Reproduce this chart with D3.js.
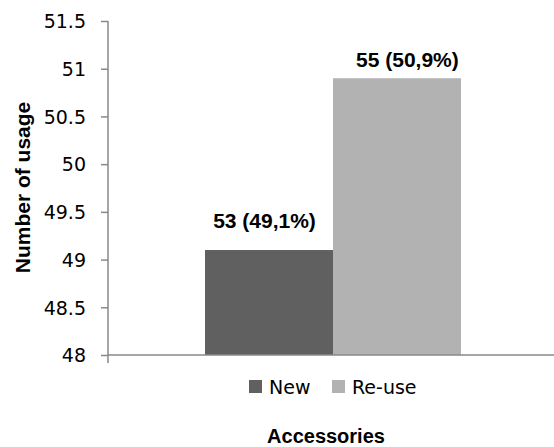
<!DOCTYPE html>
<html>
<head>
<meta charset="utf-8">
<script src="https://cdn.jsdelivr.net/npm/d3@7"></script>
<style>
  html, body { margin: 0; padding: 0; background: #fff; }
  svg { display: block; }
</style>
</head>
<body>
<svg id="chart" width="554" height="447"></svg>
<script>
// ---- data ----
const categories = ["New", "Re-use"];
const values = [49.1, 50.9];
const counts = [53, 55];
const percents = ["49,1%", "50,9%"];
const yTicks = [48, 48.5, 49, 49.5, 50, 50.5, 51, 51.5];
const group = ["Accessories"];
const colors = ["#606060", "#b2b2b2"];

// ---- layout ----
const W = 554, H = 447;
const mLeft = 108, mRight = 558, mTop = 21, mBottom = 355;
const labelOffsets = [[-4.5, -22.5], [10.4, -10.8]];
const regFont = "'DejaVu Sans', sans-serif";
const boldFont = "'Liberation Sans', Arial, sans-serif";
const axisColor = "#898989";

const svg = d3.select("#chart");

const y = d3.scaleLinear().domain([48, 51.5]).range([mBottom, mTop]);
const x0 = d3.scaleBand().domain(group).range([mLeft, mRight]).paddingInner(0).paddingOuter(0.379);
const x1 = d3.scaleBand().domain(categories).range([0, x0.bandwidth()]).padding(0);

// bars
const g = svg.append("g").attr("transform", `translate(${x0(group[0])},0)`);
g.selectAll("rect").data(categories).join("rect")
  .attr("x", d => x1(d))
  .attr("y", (d, i) => y(values[i]))
  .attr("width", x1.bandwidth())
  .attr("height", (d, i) => y(48) - y(values[i]))
  .attr("fill", (d, i) => colors[i]);

// value labels
g.selectAll("text.lbl").data(categories).join("text")
  .attr("class", "lbl")
  .attr("x", (d, i) => x1(d) + x1.bandwidth() / 2 + labelOffsets[i][0])
  .attr("y", (d, i) => y(values[i]) + labelOffsets[i][1])
  .attr("text-anchor", "middle")
  .attr("font-family", boldFont)
  .attr("font-weight", "bold")
  .attr("font-size", 21)
  .attr("fill", "#000")
  .text((d, i) => `${counts[i]} (${percents[i]})`);

// y axis
const yAxis = d3.axisLeft(y).tickValues(yTicks).tickSize(7).tickPadding(15)
  .tickFormat(d => String(d));
const ya = svg.append("g").attr("transform", `translate(${mLeft},0)`).call(yAxis);
ya.select(".domain").remove();
ya.selectAll(".tick line").attr("stroke", axisColor).attr("stroke-width", 1.5);
ya.selectAll(".tick text")
  .attr("font-family", regFont).attr("font-size", 19).attr("fill", "#000")
  .attr("dy", "0.36em");
svg.append("line").attr("x1", mLeft).attr("x2", mLeft).attr("y1", y(51.5)).attr("y2", mBottom + 8)
  .attr("stroke", axisColor).attr("stroke-width", 1.5);
// x axis line
svg.append("line").attr("x1", mLeft).attr("x2", W).attr("y1", mBottom).attr("y2", mBottom)
  .attr("stroke", axisColor).attr("stroke-width", 1.5);

// y title
svg.append("text")
  .attr("transform", `translate(29.5,${(103 + 272) / 2}) rotate(-90)`)
  .attr("text-anchor", "middle")
  .attr("font-family", boldFont).attr("font-weight", "bold").attr("font-size", 21)
  .text("Number of usage");

// x title
svg.append("text")
  .attr("x", 326).attr("y", 443)
  .attr("text-anchor", "middle")
  .attr("font-family", boldFont).attr("font-weight", "bold").attr("font-size", 20)
  .text(group[0]);

// legend
const legX = [249, 332];
const leg = svg.append("g");
categories.forEach((c, i) => {
  leg.append("rect").attr("x", legX[i]).attr("y", 380).attr("width", 13).attr("height", 13)
    .attr("fill", colors[i]);
  leg.append("text").attr("x", legX[i] + 20).attr("y", 394)
    .attr("font-family", regFont).attr("font-size", 19).attr("fill", "#000")
    .text(c);
});
</script>
</body>
</html>
